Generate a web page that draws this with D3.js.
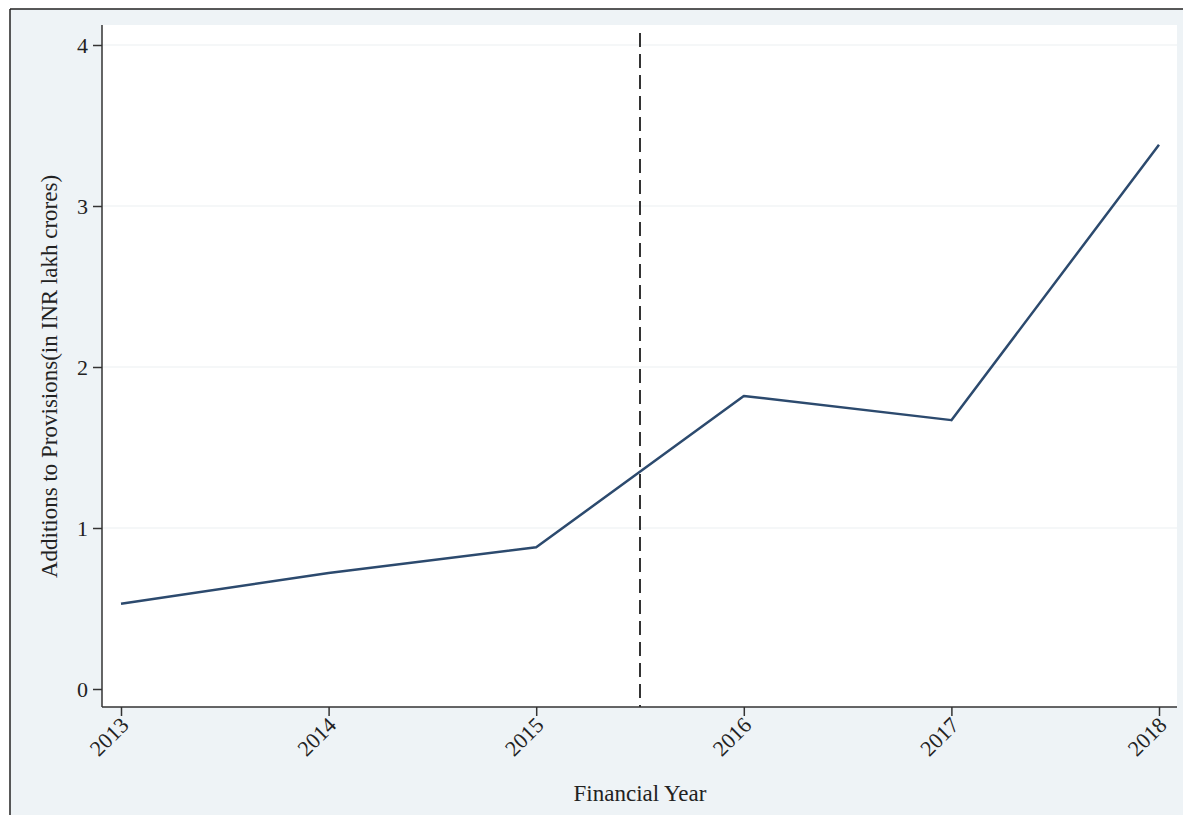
<!DOCTYPE html>
<html><head><meta charset="utf-8">
<script src="https://cdn.jsdelivr.net/npm/d3@7"></script>
<style>body{margin:0;background:#fff;} svg{display:block;}</style>
</head><body>
<svg id="c" width="1183" height="815"></svg>
<script>
const years = [2013, 2014, 2015, 2016, 2017, 2018];
const provisions = [0.53, 0.72, 0.88, 1.82, 1.67, 3.38];
const yTicks = [0, 1, 2, 3, 4];
const breakYear = 2015.5;
const xTitle = "Financial Year";
const yTitle = "Additions to Provisions(in INR lakh crores)";

const svg = d3.select("#c");
const W = 1183, H = 815;
svg.append("rect").attr("x", 10).attr("y", 9).attr("width", W).attr("height", H).attr("fill", "#eef3f6");
svg.append("line").attr("x1", 10).attr("x2", 10).attr("y1", 9).attr("y2", H).attr("stroke", "#222").attr("stroke-width", 1.5);
svg.append("line").attr("x1", 10).attr("x2", W).attr("y1", 9).attr("y2", 9).attr("stroke", "#222").attr("stroke-width", 1.5);

const plot = {left: 102, right: 1177, top: 25, bottom: 707};
svg.append("rect").attr("x", plot.left).attr("y", plot.top).attr("width", plot.right - plot.left).attr("height", plot.bottom - plot.top).attr("fill", "#ffffff");

const x = d3.scaleLinear().domain([2013, 2018]).range([121, 1159]);
const y = d3.scaleLinear().domain([0, 4]).range([689, 45]);

svg.append("g").selectAll("line").data(yTicks.filter(d => d > 0)).join("line")
  .attr("x1", plot.left).attr("x2", plot.right)
  .attr("y1", d => y(d)).attr("y2", d => y(d))
  .attr("stroke", "#eceff1").attr("stroke-width", 1.2);

const yAxis = d3.axisLeft(y).tickValues(yTicks).tickSize(9).tickPadding(5).tickFormat(d3.format("d"));
const gy = svg.append("g").attr("transform", `translate(${plot.left},0)`).call(yAxis);
gy.attr("font-size", null);
gy.select(".domain").attr("d", `M0,${plot.top}V${plot.bottom}`).attr("stroke", "#333").attr("stroke-width", 1.5);
gy.selectAll(".tick line").attr("stroke", "#333").attr("stroke-width", 1.5);
gy.selectAll(".tick text").attr("font-family", "Liberation Serif, serif").style("font-size", "22px").attr("fill", "#222");

const xAxis = d3.axisBottom(x).tickValues(years).tickSize(9).tickFormat(d3.format("d"));
const gx = svg.append("g").attr("transform", `translate(0,${plot.bottom})`).call(xAxis);
gx.attr("font-size", null);
gx.select(".domain").attr("d", `M${plot.left},0H${plot.right}`).attr("stroke", "#333").attr("stroke-width", 1.5);
gx.selectAll(".tick line").attr("stroke", "#333").attr("stroke-width", 1.5);
gx.selectAll(".tick text")
  .attr("font-family", "Liberation Serif, serif").style("font-size", "22px").attr("fill", "#222")
  .attr("text-anchor", "end").attr("dy", "0.35em")
  .attr("transform", "translate(3,14) rotate(-45)")
  .attr("x", 0).attr("y", 0);

svg.append("line")
  .attr("x1", x(breakYear)).attr("x2", x(breakYear))
  .attr("y1", plot.top + 8).attr("y2", plot.bottom)
  .attr("stroke", "#333").attr("stroke-width", 2).attr("stroke-dasharray", "14,7");

const line = d3.line().x((d, i) => x(years[i])).y(d => y(d));
svg.append("path").datum(provisions).attr("d", line)
  .attr("fill", "none").attr("stroke", "#2c4a6e").attr("stroke-width", 2.5).attr("stroke-linejoin", "round");

svg.append("text").attr("x", 640).attr("y", 801)
  .attr("text-anchor", "middle").attr("font-family", "Liberation Serif, serif").style("font-size", "23px").attr("fill", "#222")
  .text(xTitle);
svg.append("text").attr("transform", `translate(57,${(178 + 575) / 2}) rotate(-90)`)
  .attr("text-anchor", "middle").attr("font-family", "Liberation Serif, serif").style("font-size", "23px").attr("fill", "#222")
  .text(yTitle);
</script>
</body></html>
